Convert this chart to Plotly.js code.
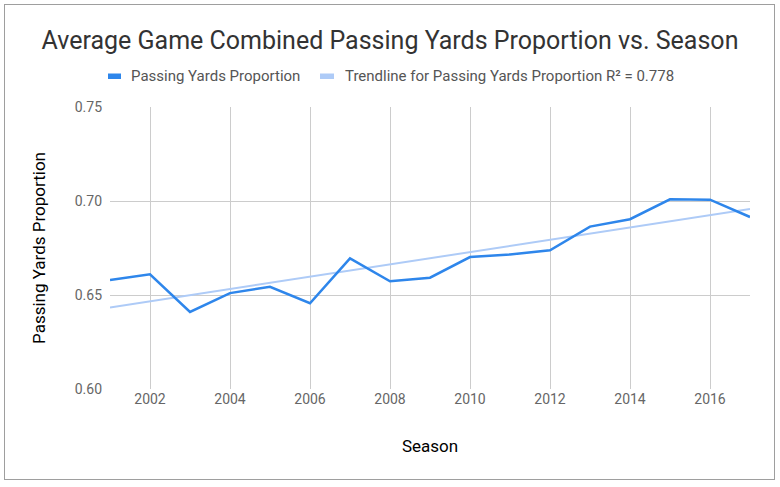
<!DOCTYPE html>
<html>
<head>
<meta charset="utf-8">
<script src="https://cdn.plot.ly/plotly-3.0.1.min.js"></script>
<style>
  html, body { margin: 0; padding: 0; background: #fff; }
  #frame { position: absolute; left: 4px; top: 4px; width: 771px; height: 476px; border: 1px solid #9e9e9e; box-sizing: border-box; }
  #chart { position: absolute; left: 0; top: 0; width: 780px; height: 487px; }
</style>
</head>
<body>
<div id="frame"></div>
<div id="chart"></div>
<script>
// ---- data ----
const seasons = [2001, 2002, 2003, 2004, 2005, 2006, 2007, 2008, 2009, 2010, 2011, 2012, 2013, 2014, 2015, 2016, 2017];
const passingYardsProportion = [0.658, 0.661, 0.641, 0.651, 0.6544, 0.6456, 0.6695, 0.6573, 0.6592, 0.6702, 0.6716, 0.6738, 0.6864, 0.6903, 0.7009, 0.7007, 0.6915];
const trendSeasons = [2001, 2017];
const trendValues = [0.6434, 0.6957];
const xTickVals = [2002, 2004, 2006, 2008, 2010, 2012, 2014, 2016];
const yTickVals = [0.60, 0.65, 0.70, 0.75];
const yTickText = ['0.60', '0.65', '0.70', '0.75'];
const seriesName = 'Passing Yards Proportion';
const trendName = 'Trendline for Passing Yards Proportion R² = 0.778';
const chartTitle = 'Average Game Combined Passing Yards Proportion vs. Season';

const mainColor = '#2e86eb';
const trendColor = '#aecbf7';
const FONT = 'Roboto, Arial, sans-serif';

const traces = [
  { x: trendSeasons, y: trendValues, mode: 'lines', name: trendName,
    line: { color: trendColor, width: 2 }, hoverinfo: 'skip' },
  { x: seasons, y: passingYardsProportion, mode: 'lines', name: seriesName,
    line: { color: mainColor, width: 2.5 } }
];

// custom Google-Sheets style legend (paper coordinates)
const px = v => (v - 110) / 640;
const py = v => (389 - v) / 282;

const layout = {
  width: 780, height: 487,
  paper_bgcolor: 'rgba(0,0,0,0)',
  plot_bgcolor: 'rgba(0,0,0,0)',
  margin: { l: 110, r: 30, t: 107, b: 98 },
  showlegend: false,
  font: { family: FONT, color: '#666', size: 13 },
  title: { text: chartTitle, font: { family: FONT, size: 25, color: '#333' },
           x: 390 / 780, xanchor: 'center', xref: 'container', y: 1 - 40 / 487, yanchor: 'middle', yref: 'container' },
  xaxis: {
    range: [2001, 2017], tickvals: xTickVals, ticktext: xTickVals.map(String),
    showgrid: true, gridcolor: '#cccccc', gridwidth: 1, zeroline: false, showline: false,
    ticks: '', ticklen: 0, tickfont: { family: FONT, size: 14, color: '#666' },
    title: { text: 'Season', font: { family: FONT, size: 17, color: '#000' }, standoff: 34 }
  },
  yaxis: {
    range: [0.60, 0.75], tickvals: yTickVals, ticktext: yTickText,
    showgrid: true, gridcolor: '#cccccc', gridwidth: 1, zeroline: false, showline: false,
    ticks: '', ticklen: 0, tickfont: { family: FONT, size: 14, color: '#666' },
    ticklabelstandoff: 7,
    title: { text: 'Passing Yards Proportion', font: { family: FONT, size: 17, color: '#000' }, standoff: 24 }
  },
  shapes: [
    { type: 'rect', xref: 'paper', yref: 'paper', x0: px(108), x1: px(121), y0: py(79), y1: py(73.5),
      fillcolor: mainColor, line: { width: 0 } },
    { type: 'rect', xref: 'paper', yref: 'paper', x0: px(320), x1: px(334), y0: py(79), y1: py(73.5),
      fillcolor: trendColor, line: { width: 0 } }
  ],
  annotations: [
    { xref: 'paper', yref: 'paper', x: px(129), y: py(76), xanchor: 'left', yanchor: 'middle', showarrow: false,
      text: seriesName, font: { family: FONT, size: 15, color: '#555' } },
    { xref: 'paper', yref: 'paper', x: px(343), y: py(76), xanchor: 'left', yanchor: 'middle', showarrow: false,
      text: trendName, font: { family: FONT, size: 15, color: '#555' } }
  ]
};

Plotly.newPlot('chart', traces, layout, { displayModeBar: false, responsive: false });
</script>
</body>
</html>
